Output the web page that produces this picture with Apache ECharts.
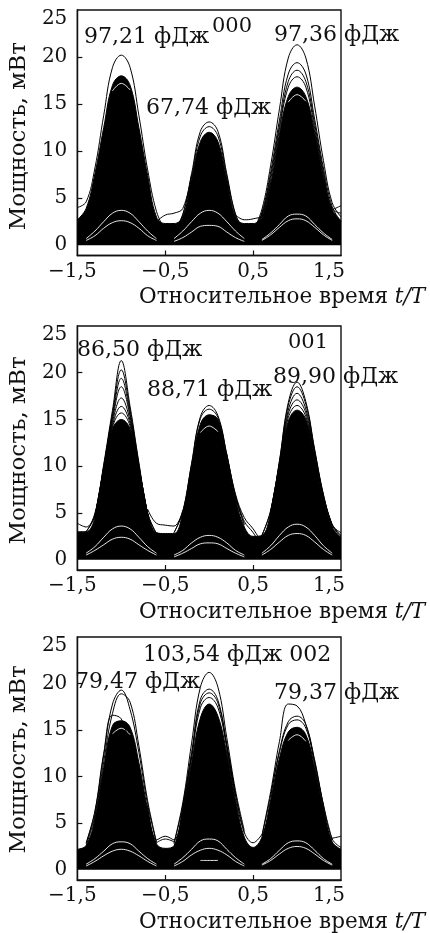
<!DOCTYPE html>
<html><head><meta charset="utf-8">
<script src="https://cdn.jsdelivr.net/npm/echarts@6/dist/echarts.min.js"></script>
<style>html,body{margin:0;padding:0;background:#fff}#c{width:430px;height:933px}</style>
</head><body><div id="c"></div>
<script>
// relative time samples t/T
const T = [-1.5,-1.4,-1.3,-1.2,-1.1,-1.0,-0.9,-0.8,-0.7,-0.6,-0.5,-0.4,-0.3,-0.2,-0.1,0,0.1,0.2,0.3,0.4,0.5,0.6,0.7,0.8,0.9,1.0,1.1,1.2,1.3,1.4,1.5];
const xLabelValues = [-1.5,-0.5,0.5,1.5];
const xTickValues = [-0.5,0.5];
const yLabelValues = [0,5,10,15,20,25];
const yTickValues = [5,10,15,20];

// ---- panel 000 ----
const p1Mass = [2.7,3.9,7.6,12.5,17.0,18.0,17.0,12.5,7.4,3.0, 2.3, 2.3,3.0,7.0,11.0,12.0,11.0,7.0,3.0,2.3, 2.3, 3.0,6.5,11.8,15.8,16.8,15.8,12.0,7.2,3.8,2.6];
const p1Black = [
  [-1.5,[4.0,4.6,8.2,13.8,18.9,20.2,18.9,13.8,8.0,3.6,1.5]],
  [-0.4,[1.5,3.3,7.6,12.1,13.1,12.1,7.6,3.3,1.5]],
  [-0.4,[1.5,3.2,7.3,11.6,12.6,11.6,7.3,3.2,1.5]],
  [0.5,[1.5,3.8,8.5,14.5,19.9,21.3,19.9,14.8,9.0,4.5,3.0]],
  [0.5,[1.5,3.5,7.8,13.3,18.2,19.4,18.2,13.4,8.2,4.1,2.5]],
  [0.5,[1.5,3.3,7.4,12.7,17.4,18.6,17.4,12.9,7.8,3.9,3.4]],
  [0.5,[1.5,3.2,7.0,12.3,16.8,17.9,16.8,12.4,7.5,3.8,4.2]],
  [-0.6,[2.5,3.2,3.4,3.9,7.5]],
  [0.3,[3.2,2.7,2.8,3.2,6.7]]
];
const p1White = [
  [-1.4,[0.7,1.5,2.5,3.4,3.7,3.4,2.5,1.5,0.7]],
  [-1.4,[0.5,1.0,1.8,2.4,2.6,2.4,1.8,1.0,0.5]],
  [-0.4,[0.7,1.5,2.5,3.4,3.7,3.4,2.5,1.5,0.7]],
  [-0.4,[0.4,0.8,1.4,2.0,2.1,2.0,1.4,0.8,0.4]],
  [0.6,[0.6,1.3,2.2,3.1,3.3,3.1,2.2,1.3,0.6]],
  [0.6,[0.5,1.1,1.9,2.6,2.8,2.6,1.9,1.1,0.5]],
  [-1.1,[16.4,17.2,16.5]],
  [0.9,[15.2,16.0,15.3]]
];

// ---- panel 001 ----
const p2Mass = [3.0,3.0,4.5,9.5,14.0,15.0,14.0,9.8,5.0,2.9, 2.8, 2.8,5.0,10.0,14.5,15.5,15.0,11.0,6.5,3.5, 2.5, 2.6,5.0,10.0,14.8,16.0,15.0,11.0,6.5,3.5,2.4];
const p2Black = [
  [-1.4,[3.0,4.8,10.2,16.0,21.3,16.4,10.4,5.0,2.8]],
  [-1.4,[3.0,4.7,10.0,15.6,20.3,16.0,10.2,4.9,2.8]],
  [-1.3,[4.6,9.9,15.3,19.4,15.6,10.0,4.8]],
  [-1.3,[4.6,9.8,15.0,18.5,15.3,9.9,4.8]],
  [-1.3,[4.5,9.7,14.7,17.3,14.9,9.9,4.8]],
  [-1.3,[4.5,9.6,14.4,16.4,14.6,9.8,4.8]],
  [-1.2,[9.5,14.2,15.7,14.3,9.7]],
  [-0.4,[2.9,5.2,10.3,15.3,16.5,15.4,11.3,6.8,3.8]],
  [-0.4,[2.9,5.1,10.2,15.1,16.1,15.2,11.2,6.7,3.7]],
  [0.6,[2.6,5.3,10.6,16.8,19.0,16.9,11.8,7.0,3.8,2.6]],
  [0.6,[2.6,5.2,10.5,16.5,18.5,16.6,11.7,6.9,3.7,2.5]],
  [0.7,[5.1,10.3,16.0,17.8,16.1,11.5,6.8,3.6]],
  [0.7,[5.1,10.2,15.6,17.1,15.7,11.3,6.7,3.6]],
  [0.7,[5.0,10.1,15.2,16.5,15.3,11.1,6.6]],
  [-1.5,[3.9,3.5,5.0,9.8]],
  [-0.7,[5.4,3.9,3.7,3.6,5.3]],
  [0.2,[11.3,7.0,4.5,3.3,1.8]],
  [0.3,[6.8,4.1,2.9,1.4]],
  [1.3,[6.7,3.7,2.9]]
];
const p2White = [
  [-1.4,[0.7,1.4,2.4,3.3,3.6,3.3,2.4,1.4,0.7]],
  [-1.4,[0.5,1.0,1.6,2.2,2.4,2.2,1.6,1.0,0.5]],
  [-0.4,[0.5,1.0,1.8,2.4,2.6,2.4,1.8,1.0,0.5]],
  [-0.4,[0.3,0.7,1.2,1.7,1.8,1.7,1.2,0.7,0.3]],
  [0.6,[0.7,1.5,2.6,3.5,3.8,3.5,2.6,1.5,0.7]],
  [0.6,[0.5,1.1,1.9,2.6,2.8,2.6,1.9,1.1,0.5]],
  [-0.1,[13.6,14.3,13.7]]
];

// ---- panel 002 ----
const p3Mass = [2.2,2.6,5.5,11.0,15.5,16.0,15.3,11.5,6.5,2.8, 2.3, 2.6,6.5,11.5,16.3,17.8,16.5,12.5,7.5,3.5, 2.4, 3.5,7.5,12.0,14.8,15.3,14.5,11.0,6.5,3.0,2.2];
const p3Black = [
  [-1.4,[2.8,6.2,12.3,17.8,19.3,17.2,12.6,7.0,2.9]],
  [-1.4,[2.6,5.8,11.6,16.8,18.9,18.0,13.3,7.4,3.0]],
  [-1.4,[2.9,6.3,12.5,16.6,16.2,13.0]],
  [-0.4,[2.9,7.2,13.6,19.6,21.2,19.6,14.2,8.5,4.2]],
  [-0.4,[2.8,6.9,12.6,18.3,19.4,18.2,13.5,8.1,3.9]],
  [-0.3,[6.8,12.3,17.9,19.0,17.9,13.3,8.0]],
  [-0.3,[6.7,12.0,17.4,18.5,17.4,13.1,7.9]],
  [0.6,[3.7,8.4,13.8,17.8,17.6,15.6,11.8,7.0,3.3,2.4]],
  [0.6,[3.6,8.0,12.8,15.9,16.5,15.6,11.6,6.9,3.2]],
  [0.7,[7.9,12.6,15.6,16.1,15.2,11.4,6.8]],
  [-0.7,[6.9,3.2,3.6,3.2,6.9]],
  [-0.6,[2.9,3.3,3.0]],
  [1.3,[6.8,3.4,3.6]],
  [0.2,[13.0,8.0,4.0,2.9,3.8]]
];
const p3White = [
  [-1.4,[0.6,1.2,2.0,2.8,3.0,2.8,2.0,1.2,0.6]],
  [-1.4,[0.4,0.9,1.5,2.0,2.2,2.0,1.5,0.9,0.4]],
  [-0.4,[0.6,1.3,2.2,3.1,3.3,3.1,2.2,1.3,0.6]],
  [-0.4,[0.4,0.9,1.6,2.1,2.3,2.1,1.6,0.9,0.4]],
  [-0.1,[1.0,1.0,1.0]],
  [0.6,[0.6,1.2,2.1,2.9,3.1,2.9,2.1,1.2,0.6]],
  [0.6,[0.5,1.0,1.7,2.3,2.5,2.3,1.7,1.0,0.5]],
  [-1.1,[14.6,15.2,14.5]],
  [0.9,[13.9,14.5,13.8]]
];

// [text, left, middle, fontSize]
const annotations = [
  ['97,21 фДж', 84, 37, 22], ['000', 212, 27, 21], ['67,74 фДж', 146, 108, 22], ['97,36 фДж', 274, 35, 22],
  ['86,50 фДж', 77, 350, 22], ['001', 288, 343, 21], ['89,90 фДж', 273, 377, 22], ['88,71 фДж', 147, 390, 22],
  ['103,54 фДж 002', 143, 655, 22], ['79,47 фДж', 75, 682, 22], ['79,37 фДж', 274, 693, 22]
];

const FONT = 'DejaVu Serif';
const INK = '#111';

function seg(start, vals) {
  const i0 = T.indexOf(start);
  return vals.map((v, k) => [T[i0 + k], v]);
}
function fmtX(v) {
  const s = (v < 0 ? '\u2212' : '') + Math.abs(v).toFixed(1).replace('.', ',');
  if (v === 1.5) return '{r|' + s + '}';
  if (v === -1.5) return '{l|' + s + '}';
  return s;
}

const panels = [
  {mass: p1Mass, black: p1Black, white: p1White, top: 10, height: 245.5, namePad: 7},
  {mass: p2Mass, black: p2Black, white: p2White, top: 326, height: 244, namePad: 5},
  {mass: p3Mass, black: p3Black, white: p3White, top: 637, height: 245, namePad: 2}
];

const grid = [], xAxis = [], yAxis = [], series = [];
panels.forEach((p, gi) => {
  grid.push({left: 73, width: 268, top: p.top, height: p.height, show: true, borderColor: INK, borderWidth: 1.4, backgroundColor: 'transparent'});
  xAxis.push({
    type: 'value', gridIndex: gi, min: -1.5, max: 1.5,
    splitLine: {show: false},
    axisLine: {show: true, onZero: false, lineStyle: {color: INK, width: 1.4}},
    axisTick: {show: true, inside: true, length: 5, customValues: xTickValues, lineStyle: {color: INK, width: 1.2}},
    axisLabel: {
      customValues: xLabelValues, formatter: fmtX, margin: 6,
      fontFamily: FONT, fontSize: 20, color: INK,
      rich: {
        r: {padding: [0, 24, 0, 0], fontFamily: FONT, fontSize: 20, color: INK},
        l: {padding: [0, 10, 0, 0], fontFamily: FONT, fontSize: 20, color: INK}
      }
    },
    name: 'Относительное время {i|t/T}', nameLocation: 'end', nameGap: 84,
    nameTextStyle: {
      fontFamily: FONT, fontSize: 21.5, color: INK, align: 'right', verticalAlign: 'middle',
      padding: [84, 0, 0, 0],
      rich: {i: {fontStyle: 'italic', fontFamily: FONT, fontSize: 21.5, color: INK}}
    }
  });
  yAxis.push({
    type: 'value', gridIndex: gi, min: -1.1, max: 25,
    splitLine: {show: false},
    axisLine: {show: true, onZero: false, lineStyle: {color: INK, width: 1.4}},
    axisTick: {show: true, inside: true, length: 5, customValues: yTickValues, lineStyle: {color: INK, width: 1.2}},
    axisLabel: {
      customValues: yLabelValues, margin: 10,
      formatter: v => v === 25 ? '{t|25}' : String(v),
      fontFamily: FONT, fontSize: 20, color: INK,
      rich: {t: {padding: [18, 0, 0, 0], fontFamily: FONT, fontSize: 20, color: INK}}
    },
    name: 'Мощность, мВт', nameLocation: 'middle', nameGap: 39,
    nameTextStyle: {fontFamily: FONT, fontSize: 23, color: INK, padding: [0, p.namePad, 0, 0]}
  });
  series.push({
    type: 'line', xAxisIndex: gi, yAxisIndex: gi, data: T.map((t, i) => [t, p.mass[i]]),
    smooth: 0.4, symbol: 'none', lineStyle: {color: '#000', width: 1},
    areaStyle: {color: '#000', opacity: 1}, z: 2, clip: true, silent: true
  });
  p.white.forEach(([s, vals]) => series.push({
    type: 'line', xAxisIndex: gi, yAxisIndex: gi, data: seg(s, vals),
    smooth: 0.4, symbol: 'none', lineStyle: {color: '#fff', width: 0.9}, z: 3, clip: true, silent: true
  }));
  p.black.forEach(([s, vals]) => series.push({
    type: 'line', xAxisIndex: gi, yAxisIndex: gi, data: seg(s, vals),
    smooth: 0.4, symbol: 'none', lineStyle: {color: '#000', width: 1}, z: 4, clip: true, silent: true
  }));
});

const graphic = annotations.map(([text, x, y, fs]) => ({
  type: 'text', x: x, y: y, z: 100,
  style: {text: text, fontFamily: FONT, fontSize: fs, fill: INK, align: 'left', verticalAlign: 'middle'}
}));

const chart = echarts.init(document.getElementById('c'), null, {renderer: 'canvas'});
chart.setOption({animation: false, backgroundColor: '#fff', grid, xAxis, yAxis, series, graphic});
</script></body></html>
